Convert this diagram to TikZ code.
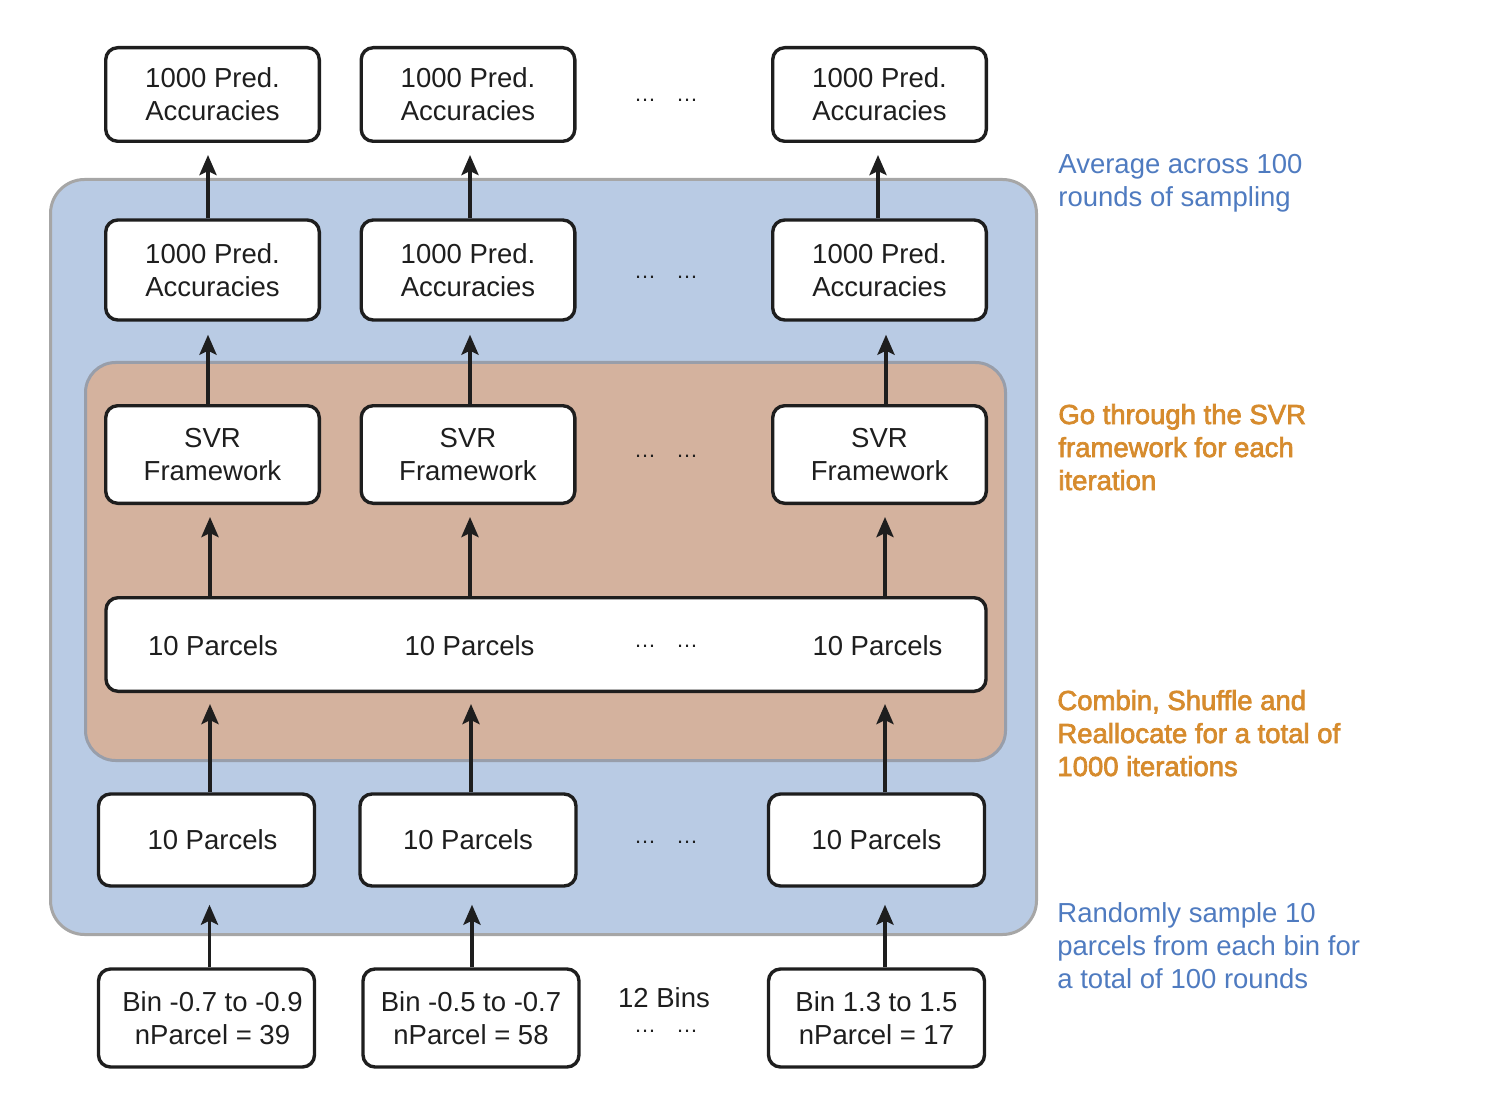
\documentclass[tikz,border=0pt]{standalone}
\usepackage{fontspec}
\setmainfont{Liberation Sans}
\newfontfamily\heavyfont[FakeBold=2.5]{Liberation Sans}
\usetikzlibrary{arrows.meta}
\definecolor{bluebg}{RGB}{185,203,228}
\definecolor{tanbg}{RGB}{212,178,158}
\definecolor{blueline}{RGB}{166,166,166}
\definecolor{tanline}{RGB}{152,158,170}
\definecolor{bluetxt}{RGB}{79,123,192}
\definecolor{orangetxt}{RGB}{214,139,45}
\definecolor{ink}{RGB}{30,30,30}
\begin{document}
\begin{tikzpicture}[x=0.5pt,y=-0.5pt,
  every node/.style={font=\fontsize{13.75}{16.5}\selectfont, text=ink},
  box/.style={draw=ink, line width=1.7pt, fill=white, rounded corners=6pt, align=center, inner sep=0pt, minimum width=106.8pt},
  rowtop/.style={box, minimum height=46.8pt},
  rowtwo/.style={box, minimum height=50pt},
  rowsvr/.style={box, minimum height=48.8pt},
  rowpar/.style={box, minimum height=46pt, minimum width=108pt},
  rowbin/.style={box, minimum height=49pt, minimum width=108pt},
  arr/.style={draw=ink, line width=1.9pt, -{Stealth[length=10pt,width=8.5pt,inset=2pt]}},
  dotsym/.style={anchor=base, inner sep=0pt, font=\fontsize{11}{13}\selectfont},
  note/.style={anchor=base west, align=left, inner sep=0pt}
]
\useasboundingbox (0,0) rectangle (1498,1112);
% backgrounds
\node[draw=blueline, line width=1.5pt, fill=bluebg, rounded corners=17pt, minimum width=493pt, minimum height=377.5pt, inner sep=0pt] (outer) at (543.5,557) {};
\node[draw=tanline, line width=1.5pt, fill=tanbg, rounded corners=15pt, minimum width=460pt, minimum height=199pt, inner sep=0pt] (inner) at (545.5,561.5) {};
% top row
\node[rowtop] (t1) at (212.5,94.5) {1000 Pred.\\Accuracies};
\node[rowtop] (t2) at (468,94.5) {1000 Pred.\\Accuracies};
\node[rowtop] (t3) at (879.5,94.5) {1000 Pred.\\Accuracies};
% second row
\node[rowtwo] (a1) at (212.5,270) {1000 Pred.\\Accuracies};
\node[rowtwo] (a2) at (468,270) {1000 Pred.\\Accuracies};
\node[rowtwo] (a3) at (879.5,270) {1000 Pred.\\Accuracies};
% SVR row
\node[rowsvr] (s1) at (212.5,454.5) {SVR\\Framework};
\node[rowsvr] (s2) at (468,454.5) {SVR\\Framework};
\node[rowsvr] (s3) at (879.5,454.5) {SVR\\Framework};
% wide box
\node[box, minimum width=440pt, minimum height=46.8pt] (w) at (546,644.5) {};
\node (w1) at (213,646) {10 Parcels};
\node (w2) at (469.5,646) {10 Parcels};
\node (w3) at (877.5,646) {10 Parcels};
% parcels row
\node[rowpar] (p1) at (206.5,840) {\hspace*{6pt}10 Parcels};
\node[rowpar] (p2) at (468,840) {10 Parcels};
\node[rowpar] (p3) at (876.5,840) {10 Parcels};
% bins row
\node[rowbin] (b1) at (206.5,1018) {\hspace*{6pt}Bin -0.7 to -0.9\\\hspace*{6pt}nParcel = 39};
\node[rowbin] (b2) at (471,1018) {Bin -0.5 to -0.7\\nParcel = 58};
\node[rowbin] (b3) at (876.5,1018) {Bin 1.3 to 1.5\\nParcel = 17};
\node (bins) at (664,998) {12 Bins};
% dots
\foreach \yy/\nm in {102/r1,279/r2,457/r3,647/r4,843/r5,1032/r6}{
  \node[dotsym] (d\nm a) at (645,\yy) {…};
  \node[dotsym] (d\nm b) at (687,\yy) {…};
}
% arrows column 1
\draw[arr, shorten >=6pt] ([xshift=-2.25pt]a1.north) -- ([xshift=-2.25pt]a1.north |- t1.south);
\draw[arr, shorten >=6.5pt] ([xshift=-2.25pt]s1.north) -- ([xshift=-2.25pt]s1.north |- a1.south);
\draw[arr, shorten >=6pt] ([xshift=-1.25pt]s1.south |- w.north) -- ([xshift=-1.25pt]s1.south);
\draw[arr, shorten >=5.5pt] ([xshift=1.75pt]p1.north) -- ([xshift=1.75pt]p1.north |- w.south);
\draw[arr, shorten >=8.5pt] ([xshift=1.5pt]b1.north) -- ([xshift=1.5pt]b1.north |- p1.south);
% arrows column 2
\draw[arr, shorten >=6pt] ([xshift=1pt]a2.north) -- ([xshift=1pt]a2.north |- t2.south);
\draw[arr, shorten >=6.5pt] ([xshift=1pt]s2.north) -- ([xshift=1pt]s2.north |- a2.south);
\draw[arr, shorten >=6pt] ([xshift=1pt]s2.south |- w.north) -- ([xshift=1pt]s2.south);
\draw[arr, shorten >=5.5pt] ([xshift=1.5pt]p2.north) -- ([xshift=1.5pt]p2.north |- w.south);
\draw[arr, shorten >=8.5pt] ([xshift=0.5pt]b2.north) -- ([xshift=0.5pt]b2.north |- p2.south);
% arrows column 3
\draw[arr, shorten >=6pt] ([xshift=-0.75pt]a3.north) -- ([xshift=-0.75pt]a3.north |- t3.south);
\draw[arr, shorten >=6.5pt] ([xshift=3.25pt]s3.north) -- ([xshift=3.25pt]s3.north |- a3.south);
\draw[arr, shorten >=6pt] ([xshift=2.75pt]s3.south |- w.north) -- ([xshift=2.75pt]s3.south);
\draw[arr, shorten >=5.5pt] ([xshift=4.25pt]p3.north) -- ([xshift=4.25pt]p3.north |- w.south);
\draw[arr, shorten >=8.5pt] ([xshift=4.25pt]b3.north) -- ([xshift=4.25pt]b3.north |- p3.south);
% side notes (base anchor = last line)
\node[note, text=bluetxt] (n1) at (1058,207) {Average across 100\\rounds of sampling};
\node[note, text=orangetxt, font=\fontsize{13.75}{16.5}\heavyfont] (n2) at (1058,490) {Go through the SVR\\framework for each\\iteration};
\node[note, text=orangetxt, font=\fontsize{13.75}{16.5}\heavyfont] (n3) at (1057,776) {Combin, Shuffle and\\Reallocate for a total of\\1000 iterations};
\node[note, text=bluetxt] (n4) at (1057,988) {Randomly sample 10\\parcels from each bin for\\a total of 100 rounds};
\end{tikzpicture}
\end{document}
